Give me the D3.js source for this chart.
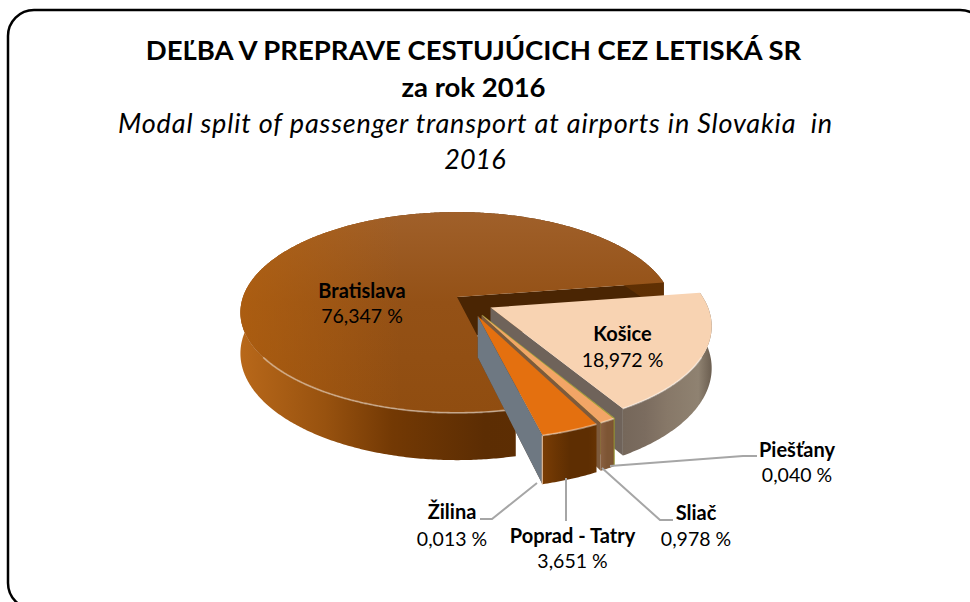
<!DOCTYPE html>
<html>
<head>
<meta charset="utf-8">
<script src="https://d3js.org/d3.v7.min.js"></script>
<style>
  html, body { margin: 0; padding: 0; background: #fff; overflow: hidden; }
  text { font-family: Lato, "Open Sans", sans-serif; fill: #000; white-space: pre; }
</style>
</head>
<body>
<div id="my_dataviz"></div>
<script>
// hodnoty z grafu
var airports = ["Bratislava", "Košice", "Piešťany", "Sliač", "Poprad - Tatry", "Žilina"];
var shares = [76.347, 18.972, 0.040, 0.978, 3.651, 0.013];
var shareLabels = ["76,347 %", "18,972 %", "0,040 %", "0,978 %", "3,651 %", "0,013 %"];

var titleLines = ["DEĽBA V PREPRAVE CESTUJÚCICH CEZ LETISKÁ SR", "za rok 2016"];
var subtitleLines = ["Modal split of passenger transport at airports in Slovakia  in", "2016"];

// farby: vrch, radialna stena, bocna stena
var topColors = ["#92501a", "#f8d3b2", "#b5b53c", "#f2a566", "#e4700f", "#7b8791"];
var cutColors = ["#4a2503", "#6f635a", "#a3a336", "#7d5a3c", "#5a2e02", "#6e7882"];
var wallStops = [
  ["#b8681a", "#98520f", "#733904", "#5c2d03", "#603003"],
  ["#75675a", "#7b6c5f", "#877868", "#8f8271", "#6b5e50"],
  ["#8a8a30", "#8a8a30", "#8a8a30", "#8a8a30", "#8a8a30"],
  ["#8a6040", "#835a3a", "#7d5534", "#7d5534", "#79502f"],
  ["#7a3d05", "#6b3503", "#5e2e02", "#5e2e02", "#663303"],
  ["#6e7882", "#6e7882", "#6e7882", "#6e7882", "#6e7882"]
];

var width = 970, height = 602;
var cx = 457, cy = 297;          // stred kolaca
var R = 214, tilt = 0.458, persp = 0.154, depth = 40;
var startDeg = 166.5;
// smer a velkost vysunutia dielikov (Bratislava ostava na mieste)
var explodeDist = [0, 40, 45, 45, 45, 45];
var explodeDeg = [0, 124.5, 147, 148, 153.4, 153.4];

var svg = d3.select("#my_dataviz").append("svg")
  .attr("width", width)
  .attr("height", height)
  .style("display", "block");

var defs = svg.append("defs");

var soft = defs.append("filter").attr("id", "soft");
soft.append("feGaussianBlur").attr("stdDeviation", 0.7);

// oranzovy nadych na lavej strane vrchu Bratislavy
var glow = defs.append("linearGradient").attr("id", "glowBra")
  .attr("gradientUnits", "userSpaceOnUse")
  .attr("x1", 240).attr("x2", 400).attr("y1", 0).attr("y2", 0);
glow.append("stop").attr("offset", 0).attr("stop-color", "#b5620f").attr("stop-opacity", 0.7);
glow.append("stop").attr("offset", 1).attr("stop-color", "#b5620f").attr("stop-opacity", 0);

// ramik, pravy a spodny okraj su mimo obrazka
svg.append("rect")
  .attr("x", 8).attr("y", 10)
  .attr("width", 978).attr("height", 599)
  .attr("rx", 26).attr("ry", 26)
  .attr("fill", "#fff")
  .attr("stroke", "#000")
  .attr("stroke-width", 2.5);

// nadpis
svg.selectAll(".title").data(titleLines).enter().append("text")
  .attr("class", "title")
  .attr("x", 473.5)
  .attr("y", function(d, i) { return 60 + i * 37; })
  .attr("text-anchor", "middle")
  .style("font-size", "27.5px")
  .style("font-weight", "700")
  .text(function(d) { return d; });

svg.selectAll(".subtitle").data(subtitleLines).enter().append("text")
  .attr("class", "subtitle")
  .attr("x", 475)
  .attr("y", function(d, i) { return 133 + i * 36; })
  .attr("text-anchor", "middle")
  .attr("textLength", function(d, i) { return i == 0 ? 714 : null; })
  .attr("lengthAdjust", "spacing")
  .style("font-size", "27px")
  .style("font-style", "italic")
  .text(function(d) { return d; });

// d3.pie pocita uhly, startuje od spodku a ide v smere hodinovych ruciciek
var startRad = startDeg * Math.PI / 180;
var pie = d3.pie().sort(null).startAngle(startRad).endAngle(startRad + 2 * Math.PI);
var arcs = pie(shares);

// plan (x,y) -> obrazovka s perspektivou
function f(y) { return 1 / (1 - persp * y / R); }
var sx = function(x, y) { return cx + x * f(y); };
var sy = function(y, z) { return cy + (y * tilt + z) * f(y); };

var line = d3.line().x(function(d) { return d[0]; }).y(function(d) { return d[1]; });

function origin(i) {
  var a = explodeDeg[i] * Math.PI / 180;
  return [explodeDist[i] * Math.sin(a), -explodeDist[i] * Math.cos(a)];
}

function rimPoints(arc, i, z) {
  var o = origin(i), pts = [];
  var n = Math.max(2, Math.ceil((arc.endAngle - arc.startAngle) / 0.01));
  d3.range(n + 1).forEach(function(k) {
    var a = arc.startAngle + (arc.endAngle - arc.startAngle) * k / n;
    var x = o[0] + R * Math.sin(a), y = o[1] - R * Math.cos(a);
    pts.push([sx(x, y), sy(y, z)]);
  });
  return pts;
}

function apex(i, z) {
  var o = origin(i);
  return [sx(o[0], o[1]), sy(o[1], z)];
}

arcs.forEach(function(arc, i) {
  var g = svg.append("g").attr("class", "slice");
  var top = rimPoints(arc, i, 0), bot = rimPoints(arc, i, depth);
  var xs = d3.extent(top, function(d) { return d[0]; });

  var grad = defs.append("linearGradient")
    .attr("id", "wall" + i)
    .attr("gradientUnits", "userSpaceOnUse")
    .attr("x1", xs[0]).attr("x2", i == 0 ? 662 : xs[1])
    .attr("y1", 0).attr("y2", 0);
  var offs = i == 0 ? [0, 0.2, 0.36, 0.58, 1] : [0, 0.25, 0.5, 0.85, 1];
  wallStops[i].forEach(function(c, k) {
    grad.append("stop").attr("offset", offs[k]).attr("stop-color", c);
  });

  // radialna stena na konci dielika
  var last = top[top.length - 1], lastB = bot[bot.length - 1];
  g.append("path")
    .attr("d", line([apex(i, 0), last, lastB, apex(i, depth)]) + "Z")
    .attr("fill", cutColors[i]);

  // bocna stena
  g.append("path")
    .attr("d", line(top.concat(bot.slice().reverse())) + "Z")
    .attr("fill", "url(#wall" + i + ")");

  // tenky svetly roh pri Ziline
  if (i == 5) {
    g.append("path")
      .attr("d", line([last, lastB]))
      .attr("stroke", "#d8b08c")
      .attr("stroke-width", 1.3);
  }

  // vrch
  var topFill = topColors[i];
  if (i == 0) {
    var tg = defs.append("linearGradient").attr("id", "topBra")
      .attr("x1", 0).attr("x2", 0).attr("y1", 0).attr("y2", 1);
    tg.append("stop").attr("offset", 0).attr("stop-color", "#a0602a");
    tg.append("stop").attr("offset", 0.45).attr("stop-color", "#945116");
    tg.append("stop").attr("offset", 1).attr("stop-color", "#904d10");
    topFill = "url(#topBra)";
  }
  var topPath = line([apex(i, 0)].concat(top)) + "Z";
  g.append("path").attr("d", topPath).attr("fill", topFill);
  if (i == 0) g.append("path").attr("d", topPath).attr("fill", "url(#glowBra)");

  // svetly okraj na prednej hrane
  var front = top.filter(function(d) { return d[1] > cy + 60; });
  if (front.length > 1 && arc.endAngle - arc.startAngle > 0.02) {
    g.append("path")
      .attr("d", line(front))
      .attr("fill", "none")
      .attr("stroke", "#fff")
      .attr("stroke-opacity", 0.4)
      .attr("stroke-width", 1.8)
      .attr("filter", "url(#soft)");
  }
});

// vodiace ciary k popisom
var leaders = [
  [[480, 519], [492, 519], [537, 483]],
  [[566, 521], [566, 478]],
  [[673, 520], [660, 520], [602, 468]],
  [[610, 466], [743, 456], [757, 456]]
];
svg.selectAll(".leader").data(leaders).enter().append("path")
  .attr("class", "leader")
  .attr("d", function(d) { return line(d); })
  .attr("fill", "none")
  .attr("stroke", "#a6a6a6")
  .attr("stroke-width", 2);

// popisy dielikov
var labelPos = [
  [362, 298], [622.5, 341], [797, 457], [696, 520], [572.5, 543], [452, 519]
];
var labelGap = [25, 26, 25, 26, 25, 27];
airports.forEach(function(name, i) {
  var t = svg.append("text")
    .attr("x", labelPos[i][0])
    .attr("y", labelPos[i][1])
    .attr("text-anchor", "middle");
  t.append("tspan").attr("x", labelPos[i][0])
    .style("font-weight", "700").style("font-size", "20px").text(name);
  t.append("tspan").attr("x", labelPos[i][0]).attr("dy", labelGap[i])
    .style("font-size", "19.5px").text(shareLabels[i]);
});
</script>
</body>
</html>
